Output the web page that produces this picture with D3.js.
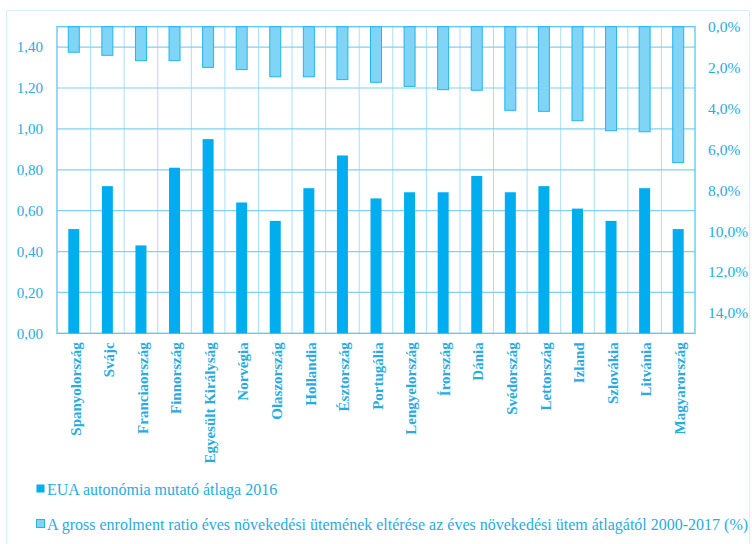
<!DOCTYPE html>
<html><head><meta charset="utf-8">
<script src="https://cdn.jsdelivr.net/npm/d3@7"></script>
<style>
html,body{margin:0;padding:0;background:#fff;}
svg{display:block;}
text{font-family:"Liberation Serif","Times New Roman",serif;}
</style></head>
<body><svg id="c" width="752" height="544"></svg>
<script>
const categories = ["Spanyolország","Svájc","Franciaország","Finnország","Egyesült Királyság","Norvégia","Olaszország","Hollandia","Észtország","Portugália","Lengyelország","Írország","Dánia","Svédország","Lettország","Izland","Szlovákia","Litvánia","Magyarország"];
const autonomy = [0.51,0.72,0.43,0.81,0.95,0.64,0.55,0.71,0.87,0.66,0.69,0.69,0.77,0.69,0.72,0.61,0.55,0.71,0.51];
const growthDev = [1.25,1.40,1.66,1.66,1.99,2.10,2.45,2.45,2.59,2.72,2.92,3.08,3.11,4.09,4.14,4.60,5.09,5.14,6.65];
const leftTicks = [0,0.2,0.4,0.6,0.8,1.0,1.2,1.4];
const rightTicks = [0,2,4,6,8,10,12,14];
const seriesNames = ["EUA autonómia mutató átlaga 2016","A gross enrolment ratio éves növekedési ütemének eltérése az éves növekedési ütem átlagától 2000-2017 (%)"];

const svg = d3.select("#c");
const FF = "'Liberation Serif','Times New Roman',serif";
const L = 57, R = 695, T = 26.7, B = 333.3;
const dark = "#00AEEF", lightFill = "#80D4F6", lightStroke = "#22B6EE", txt = "#29ABE2";

// outer border
svg.append("path").attr("d", `M6.5,544 V10.5 H749.5 V544`).attr("fill","none").attr("stroke","#D6F0FB").attr("stroke-width",1);

const x = d3.scaleBand().domain(categories).range([L,R]).padding(0);
const yL = d3.scaleLinear().domain([0,1.5]).range([B,T]);
const yR = d3.scaleLinear().domain([0,15]).range([T,B]);

// vertical gridlines
svg.append("g").selectAll("line").data(categories.slice(1)).join("line")
  .attr("x1", d=>x(d)).attr("x2", d=>x(d)).attr("y1",T).attr("y2",B)
  .attr("stroke","#A8E0F8").attr("stroke-width",1);
// horizontal gridlines
svg.append("g").selectAll("line").data(leftTicks.slice(1)).join("line")
  .attr("x1",L).attr("x2",R).attr("y1",d=>yL(d)).attr("y2",d=>yL(d))
  .attr("stroke","#7FD0F2").attr("stroke-width",1.2);
// plot border
svg.append("rect").attr("x",L).attr("y",T).attr("width",R-L).attr("height",B-T)
  .attr("fill","none").attr("stroke","#5CC6F0").attr("stroke-width",1.3);

const bw = 11;
// light bars (right axis, reversed)
svg.append("g").selectAll("rect").data(growthDev).join("rect")
  .attr("x",(d,i)=>x(categories[i])+x.bandwidth()/2-bw/2)
  .attr("y",yR(0)).attr("width",bw).attr("height",d=>yR(d)-yR(0))
  .attr("fill",lightFill).attr("stroke",lightStroke).attr("stroke-width",1);
// dark bars
svg.append("g").selectAll("rect").data(autonomy).join("rect")
  .attr("x",(d,i)=>x(categories[i])+x.bandwidth()/2-bw/2)
  .attr("y",d=>yL(d)).attr("width",bw).attr("height",d=>yL(0)-yL(d))
  .attr("fill",dark);

// left axis
const fmtL = d => d3.format(".2f")(d).replace(".",",");
const gL = svg.append("g").attr("transform",`translate(${L},0)`)
  .call(d3.axisLeft(yL).tickValues(leftTicks).tickFormat(fmtL).tickSize(0).tickPadding(14));
gL.attr("font-family",FF).attr("font-size",15);
gL.select(".domain").remove();
gL.selectAll("text").attr("fill",txt);

// right axis
const fmtR = d => d3.format(".1f")(d).replace(".",",")+"%";
const gR = svg.append("g").attr("transform",`translate(${R},0)`)
  .call(d3.axisRight(yR).tickValues(rightTicks).tickFormat(fmtR).tickSize(0).tickPadding(13));
gR.attr("font-family",FF).attr("font-size",15.5);
gR.select(".domain").remove();
gR.selectAll("text").attr("fill",txt);

// x labels
svg.append("g").attr("font-family",FF).selectAll("text").data(categories).join("text")
  .attr("transform",d=>`translate(${x(d)+x.bandwidth()/2+1.5},${B+9}) rotate(-90)`)
  .attr("text-anchor","end").attr("dy","0.35em")
  .attr("fill",txt).style("font-size","15px").style("font-weight","bold")
  .text(d=>d);

// legend
const leg = svg.append("g").attr("font-family",FF);
const legY = [489, 524];
const legCol = [[dark,dark],[lightFill,lightStroke]];
seriesNames.forEach((n,i)=>{
  leg.append("rect").attr("x",36.5).attr("y",legY[i]-4.5).attr("width",8).attr("height",8)
    .attr("fill",legCol[i][0]).attr("stroke",legCol[i][1]).attr("stroke-width",i?1:0);
  leg.append("text").attr("x",47).attr("y",legY[i]).attr("dy","0.35em")
    .attr("fill",txt).style("font-size","16px").text(n);
});
</script></body></html>
